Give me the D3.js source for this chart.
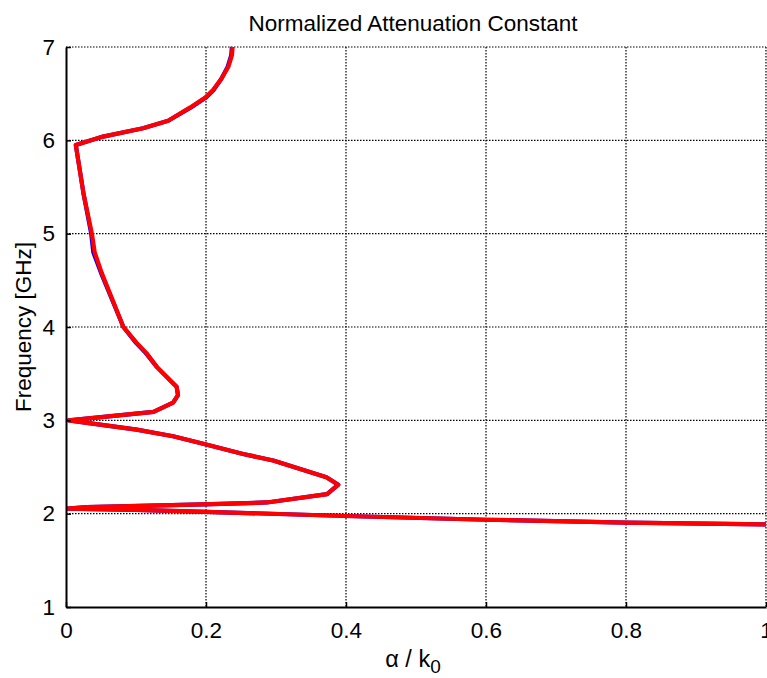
<!DOCTYPE html>
<html>
<head>
<meta charset="utf-8">
<script src="https://cdn.jsdelivr.net/npm/d3@7"></script>
<style>
  body { margin: 0; background: #fff; }
  text { font-family: "Liberation Sans", Arial, sans-serif; fill: #000; }
</style>
</head>
<body>
<svg id="chart" width="767" height="678"></svg>
<script>
// ---- data ----
const freqGHz = [1.885, 1.905, 1.935, 1.975, 2.02, 2.04, 2.055, 2.07, 2.10, 2.12, 2.21, 2.31, 2.39, 2.57, 2.64, 2.75, 2.83, 2.90, 3.0,
  3.09, 3.19, 3.27, 3.36, 3.57, 3.72, 3.83, 4.0, 4.58, 4.80, 5.0, 5.43, 5.95, 6.04, 6.13, 6.21, 6.35, 6.46, 6.54, 6.66, 6.79, 6.91, 7.0];
const alphaRed = [1.0, 0.8, 0.6, 0.4, 0.2, 0.1, 0.002, 0.03, 0.196, 0.287, 0.373, 0.389, 0.372, 0.296, 0.253, 0.196, 0.153, 0.101, 0.004,
  0.125, 0.153, 0.16, 0.158, 0.13, 0.115, 0.101, 0.082, 0.051, 0.041, 0.037, 0.025, 0.014, 0.053, 0.110, 0.146, 0.177, 0.199, 0.210, 0.222, 0.232, 0.237, 0.238];
const alphaBlue = [1.0, 0.8, 0.6, 0.4, 0.2, 0.1, 0.002, 0.03, 0.196, 0.287, 0.373, 0.389, 0.372, 0.296, 0.253, 0.196, 0.153, 0.101, 0.004,
  0.125, 0.153, 0.16, 0.158, 0.13, 0.114, 0.100, 0.082, 0.050, 0.039, 0.036, 0.025, 0.014, 0.053, 0.110, 0.146, 0.178, 0.200, 0.211, 0.222, 0.231, 0.236, 0.237];
const xTicks = [0, 0.2, 0.4, 0.6, 0.8, 1];
const xTickLabels = ["0", "0.2", "0.4", "0.6", "0.8", "1"];
const yTicks = [1, 2, 3, 4, 5, 6, 7];
const titleText = "Normalized Attenuation Constant";
const yLabelText = "Frequency [GHz]";

// ---- layout ----
const svg = d3.select("#chart");
const pL = 66, pR = 766, pT = 47, pB = 607;
const x = d3.scaleLinear().domain([0, 1]).range([pL, pR]);
const y = d3.scaleLinear().domain([1, 7]).range([pB, pT]);

// grid (dotted)
const grid = svg.append("g");
grid.selectAll(".gx").data(xTicks.filter(d => d > 0)).join("line")
  .attr("x1", d => x(d)).attr("x2", d => x(d)).attr("y1", pT).attr("y2", pB)
  .attr("stroke", "#000").attr("stroke-width", 1.2).attr("stroke-dasharray", "1.5,1.5");
grid.selectAll(".gy").data(yTicks.filter(d => d > 1)).join("line")
  .attr("x1", pL).attr("x2", pR).attr("y1", d => y(d)).attr("y2", d => y(d))
  .attr("stroke", "#000").attr("stroke-width", 1.2).attr("stroke-dasharray", "1.5,1.5");

// clip
svg.append("clipPath").attr("id", "clip").append("rect")
  .attr("x", pL).attr("y", pT - 3).attr("width", pR - pL).attr("height", pB - pT + 3);

const line = (arr) => d3.line().x((d, i) => x(arr[i])).y(d => y(d))(freqGHz);
const plot = svg.append("g").attr("clip-path", "url(#clip)");
plot.append("path").attr("d", line(alphaBlue)).attr("fill", "none")
  .attr("stroke", "#0000ff").attr("stroke-width", 4.2).attr("stroke-linejoin", "round");
plot.append("path").attr("d", line(alphaRed)).attr("fill", "none")
  .attr("stroke", "#ff0000").attr("stroke-width", 4.2).attr("stroke-linejoin", "round");

// axes
const xAxis = d3.axisBottom(x).tickValues(xTicks).tickFormat((d, i) => xTickLabels[i]).tickSizeInner(-5).tickSizeOuter(0).tickPadding(15);
const yAxis = d3.axisLeft(y).tickValues(yTicks).tickFormat(d3.format("d")).tickSizeInner(-5).tickSizeOuter(0).tickPadding(11);
const gx = svg.append("g").attr("transform", `translate(0,${pB})`).call(xAxis);
const gy = svg.append("g").attr("transform", `translate(${pL},0)`).call(yAxis);
[gx, gy].forEach(g => {
  g.select(".domain").attr("stroke", "#000").attr("stroke-width", 2);
  g.selectAll(".tick line").attr("stroke", "#000").attr("stroke-width", 1.5);
  g.selectAll(".tick text").attr("font-size", 22.5).attr("font-family", "Liberation Sans, Arial, sans-serif").attr("fill", "#000");
});

// title
svg.append("text").attr("x", 413).attr("y", 31).attr("text-anchor", "middle")
  .attr("font-size", 22.5).text(titleText);

// y label
svg.append("text").attr("transform", `translate(31,${(pT + pB) / 2}) rotate(-90)`)
  .attr("text-anchor", "middle").attr("font-size", 22.5).text(yLabelText);

// x label
const xl = svg.append("text").attr("x", 413).attr("y", 667).attr("text-anchor", "middle").attr("font-size", 23.5);
xl.append("tspan").text("α / k");
xl.append("tspan").attr("dy", 6).attr("font-size", 19).text("0");
</script>
</body>
</html>
